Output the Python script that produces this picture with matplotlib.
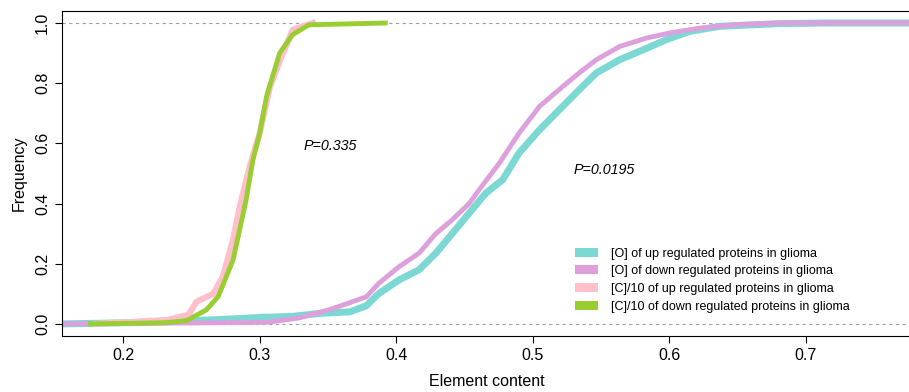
import matplotlib
matplotlib.use("Agg")
import matplotlib.pyplot as plt
from matplotlib.patches import Patch

plt.rcParams['font.family'] = ['Liberation Sans', 'DejaVu Sans']

# odczytane punkty rozkladow skumulowanych (x = zawartosc, y = czestosc)
o_up_x = [0.155, 0.217, 0.273, 0.302, 0.324, 0.344, 0.366, 0.378, 0.387, 0.402, 0.4167, 0.429,
          0.441, 0.4534, 0.4657, 0.478, 0.490, 0.505, 0.5196, 0.534, 0.5466, 0.5637, 0.581,
          0.598, 0.615, 0.637, 0.681, 0.716, 0.78]
o_up_y = [0.0, 0.005, 0.015, 0.022, 0.025, 0.035, 0.04, 0.06, 0.10, 0.146, 0.18, 0.235,
          0.30, 0.368, 0.435, 0.479, 0.568, 0.645, 0.712, 0.778, 0.834, 0.878, 0.911,
          0.945, 0.972, 0.989, 0.998, 1.0, 1.0]

o_down_x = [0.155, 0.305, 0.329, 0.353, 0.378, 0.3873, 0.402, 0.4167, 0.429, 0.441, 0.4534,
            0.4608, 0.4755, 0.490, 0.505, 0.522, 0.534, 0.5466, 0.5637, 0.5833, 0.6005,
            0.6225, 0.647, 0.681, 0.78]
o_down_y = [0.0, 0.005, 0.02, 0.05, 0.09, 0.135, 0.19, 0.235, 0.30, 0.346, 0.40,
            0.446, 0.534, 0.634, 0.723, 0.789, 0.834, 0.878, 0.922, 0.950, 0.967,
            0.983, 0.994, 1.0, 1.0]

c_up_x = [0.18, 0.232, 0.2477, 0.2538, 0.266, 0.273, 0.2805, 0.2854, 0.2927, 0.300, 0.3075,
          0.317, 0.3243, 0.339]
c_up_y = [0.0, 0.013, 0.03, 0.074, 0.10, 0.157, 0.28, 0.39, 0.523, 0.634, 0.789,
          0.90, 0.978, 1.0]

c_down_x = [0.176, 0.23, 0.2465, 0.261, 0.2696, 0.2805, 0.290, 0.295, 0.300, 0.305, 0.3146,
            0.324, 0.336, 0.392]
c_down_y = [0.0, 0.004, 0.011, 0.047, 0.091, 0.213, 0.412, 0.545, 0.634, 0.756, 0.90,
            0.961, 0.994, 1.0]

etykiety = ["[O] of up regulated proteins in glioma",
            "[O] of down regulated proteins in glioma",
            "[C]/10 of up regulated proteins in glioma",
            "[C]/10 of down regulated proteins in glioma"]
kolory = ["#7BD8D3", "#DDA0DD", "#FFC0CB", "#9ACD32"]

fig = plt.figure(figsize=(9.09, 3.92), dpi=100)
ax = fig.add_axes([0.068, 0.143, 0.934, 0.829])

ax.axhline(0, color="#a0a0a0", ls=(0, (3, 3)), lw=0.8)
ax.axhline(1, color="#a0a0a0", ls=(0, (3, 3)), lw=0.8)

ax.plot(o_up_x, o_up_y, color=kolory[0], lw=5, solid_capstyle="round")
ax.plot(o_down_x, o_down_y, color=kolory[1], lw=3.5)
ax.plot(c_up_x, c_up_y, color=kolory[2], lw=4.5)
ax.plot(c_down_x, c_down_y, color=kolory[3], lw=3.5)

ax.text(0.332, 0.59, "P=0.335", style="italic", fontsize=10.3, va="center")
ax.text(0.530, 0.51, "P=0.0195", style="italic", fontsize=10.3, va="center")

ax.set_xlim(0.155, 0.777)
ax.set_ylim(-0.04, 1.04)
ax.set_xticks([0.2, 0.3, 0.4, 0.5, 0.6, 0.7])
ax.set_xticklabels(["0.2", "0.3", "0.4", "0.5", "0.6", "0.7"])
ax.set_yticks([0.0, 0.2, 0.4, 0.6, 0.8, 1.0])
ax.set_yticklabels(["0.0", "0.2", "0.4", "0.6", "0.8", "1.0"], rotation=90, va="center")
ax.tick_params(labelsize=11.5, length=5, width=0.8)
ax.set_xlabel("Element content", fontsize=11.5, labelpad=8)
ax.set_ylabel("Frequency", fontsize=11.5, labelpad=6)
for s in ax.spines.values():
    s.set_linewidth(0.8)

uchwyty = [Patch(facecolor=k, edgecolor="none") for k in kolory]
ax.legend(uchwyty, etykiety, loc="lower left", bbox_to_anchor=(0.604, 0.072), frameon=False,
          fontsize=9, handlelength=1.85, handleheight=0.72, handletextpad=1.05,
          labelspacing=0.45, borderpad=0, borderaxespad=0)

fig.savefig("out.png", dpi=100)
